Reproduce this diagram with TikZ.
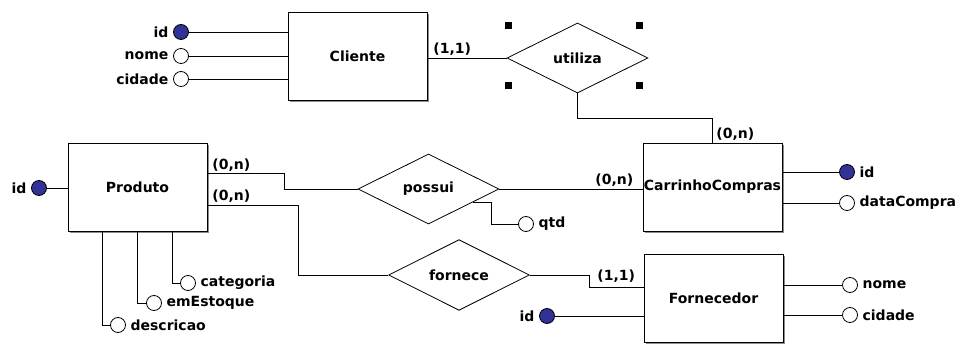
\documentclass[tikz,border=0pt]{standalone}
\usepackage{fontspec}
\setmainfont{DejaVu Sans}
\usetikzlibrary{shapes.geometric,shadows,calc}

\definecolor{keyblue}{RGB}{50,50,150}
\tikzset{
  erfont/.style={font=\fontsize{14}{16}\selectfont\bfseries},
  entity/.style={draw, fill=white, erfont, minimum width=139pt, minimum height=88pt, inner sep=0pt,
    drop shadow={shadow xshift=2pt, shadow yshift=-2pt, fill=black!45, opacity=1}},
  relation/.style={draw, diamond, fill=white, erfont, minimum width=141pt, minimum height=70pt, inner sep=0pt},
  attr/.style={draw, circle, fill=white, minimum size=15pt, inner sep=0pt},
  keyattr/.style={attr, fill=keyblue},
  card/.style={erfont, inner sep=0pt, anchor=base west},
  every label/.style={erfont},
  label distance=1pt
}

\begin{document}
\begin{tikzpicture}[x=1pt, y=-1pt, line width=0.8pt]
\useasboundingbox (0,0) rectangle (956,344);

% entidades
\node[entity] (cliente) at (357.5,56) {Cliente};
\node[entity] (produto) at (137.5,187) {Produto};
\node[entity] (carrinho) at (712.5,187) {CarrinhoCompras};
\node[entity] (fornecedor) at (713.5,298.5) {Fornecedor};

% relacionamentos
\node[relation] (utiliza) at (577.5,58) {utiliza};
\node[relation] (possui) at (428.5,189) {possui};
\node[relation] (fornece) at (459,275) {fornece};

% atributos
\node[keyattr, label=left:id] (cli-id) at (181,32) {};
\node[attr, label=left:nome] (cli-nome) at (181,56) {};
\node[attr, label=left:cidade] (cli-cidade) at (181,79) {};
\node[keyattr, label=left:id] (prod-id) at (39,188) {};
\node[attr, label=right:categoria] (prod-cat) at (188,283) {};
\node[attr, label=right:emEstoque] (prod-estoque) at (154,303) {};
\node[attr, label=right:descricao] (prod-desc) at (118,325) {};
\node[attr, label=right:qtd] (qtd) at (526,224) {};
\node[keyattr, label=right:id] (car-id) at (847,172) {};
\node[attr, label=right:dataCompra] (car-data) at (847,203) {};
\node[keyattr, label=left:id] (forn-id) at (547,316) {};
\node[attr, label=right:nome] (forn-nome) at (850,285) {};
\node[attr, label=right:cidade] (forn-cidade) at (850,315) {};

\draw (cli-id) -- (cli-id -| cliente.west);
\draw (cli-nome) -- (cli-nome -| cliente.west);
\draw (cli-cidade) -- (cli-cidade -| cliente.west);
\draw (prod-id) -- (prod-id -| produto.west);
\draw ($(produto.south west)!.25!(produto.south east)$) |- (prod-desc);
\draw ($(produto.south west)!.5!(produto.south east)$) |- (prod-estoque);
\draw ($(produto.south west)!.75!(produto.south east)$) |- (prod-cat);
\draw (car-id -| carrinho.east) -- (car-id);
\draw (car-data -| carrinho.east) -- (car-data);
\draw (forn-id) -- (forn-id -| fornecedor.west);
\draw (forn-nome -| fornecedor.east) -- (forn-nome);
\draw (forn-cidade -| fornecedor.east) -- (forn-cidade);

% ligacoes
\draw (utiliza.west -| cliente.east) -- (utiliza.west);
\draw (utiliza.south) -- ++(0,25) -| (carrinho.north);
\draw ([yshift=14pt]produto.east) -- ++(77,0) |- (possui.west);
\draw (possui.east) -- (possui.east -| carrinho.west);
\draw ($(possui.east)!.37!(possui.south)$) -- ++(18,0) |- (qtd);
\draw ([yshift=-18pt]produto.east) -- ++(91,0) |- (fornece.west);
\draw (fornece.east) -- ++(59,0) |- ([yshift=11pt]fornecedor.west);

% cardinalidades
\node[card] (card-cli) at (433,54) {(1,1)};
\node[card] (card-car1) at (716,139) {(0,n)};
\node[card] (card-car2) at (595,185) {(0,n)};
\node[card] (card-prod1) at (212,170) {(0,n)};
\node[card] (card-prod2) at (212,201) {(0,n)};
\node[card] (card-forn) at (597,281) {(1,1)};

% selecao
\foreach \hx/\hy in {508/26, 639/26, 508/86, 639/86}
  \fill (\hx-3.5,\hy-3.5) rectangle ++(7,7);
\end{tikzpicture}
\end{document}
